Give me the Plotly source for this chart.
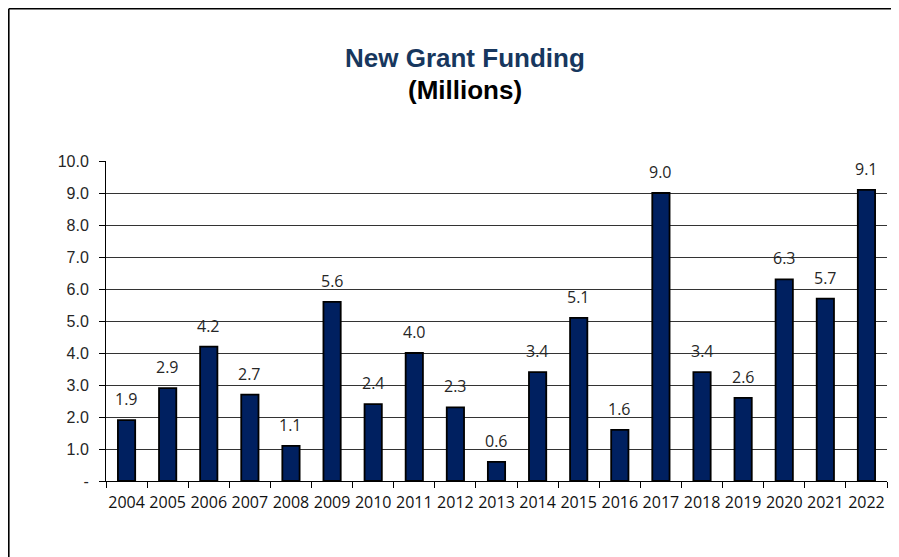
import plotly.graph_objects as go

years = ["2004", "2005", "2006", "2007", "2008", "2009", "2010", "2011", "2012", "2013",
         "2014", "2015", "2016", "2017", "2018", "2019", "2020", "2021", "2022"]
funding = [1.9, 2.9, 4.2, 2.7, 1.1, 5.6, 2.4, 4.0, 2.3, 0.6,
           3.4, 5.1, 1.6, 9.0, 3.4, 2.6, 6.3, 5.7, 9.1]
y_tickvals = [0, 1, 2, 3, 4, 5, 6, 7, 8, 9, 10]
y_ticktext = ["-", "1.0", "2.0", "3.0", "4.0", "5.0", "6.0", "7.0", "8.0", "9.0", "10.0"]

# page has an 8px body margin; figure occupies page x 8..899, y 8..557
W, H = 891, 549
ML, MR, MT, MB = 98, 12, 153, 76
PW, PH = W - ML - MR, H - MT - MB


def px_x(p):
    return (p - ML) / PW


def px_y(p):
    return (H - MB - p) / PH


fig = go.Figure()
fig.add_trace(go.Bar(
    x=years, y=funding,
    marker=dict(color="#002060", line=dict(color="#000000", width=1.8)),
    width=0.42,
    hoverinfo="x+y",
))

annotations = []
for i, v in enumerate(funding):
    annotations.append(dict(
        x=i, y=v, xref="x", yref="y", text=f"{v:.1f}", showarrow=False,
        yanchor="bottom", yshift=8,
        font=dict(family="Open Sans, sans-serif", size=16, color="#262626"),
    ))

annotations.append(dict(
    x=px_x(457), y=px_y(50), xref="paper", yref="paper", xanchor="center", yanchor="middle",
    text="<b>New Grant Funding</b>", showarrow=False,
    font=dict(family="Liberation Sans, Arial, sans-serif", size=26, color="#17375E"),
))
annotations.append(dict(
    x=px_x(457), y=px_y(82), xref="paper", yref="paper", xanchor="center", yanchor="middle",
    text="<b>(Millions)</b>", showarrow=False,
    font=dict(family="Liberation Sans, Arial, sans-serif", size=26, color="#000000"),
))

shapes = [
    dict(type="line", xref="paper", yref="paper", x0=px_x(0.8), x1=px_x(W + 5), y0=px_y(0.8), y1=px_y(0.8),
         line=dict(color="#000000", width=1.6)),
    dict(type="line", xref="paper", yref="paper", x0=px_x(0.8), x1=px_x(0.8), y0=px_y(0.8), y1=px_y(H + 5),
         line=dict(color="#000000", width=1.6)),
]

fig.update_layout(
    width=W, height=H,
    margin=dict(l=ML, r=MR, t=MT, b=MB),
    paper_bgcolor="white", plot_bgcolor="white",
    showlegend=False,
    annotations=annotations,
    shapes=shapes,
    xaxis=dict(
        type="category", range=[-0.5, len(years) - 0.5],
        tickson="boundaries", ticks="outside", ticklen=6, tickcolor="#000000",
        showline=True, linecolor="#000000", linewidth=1, showgrid=False,
        tickfont=dict(family="Open Sans, sans-serif", size=16, color="#111111"),
        ticklabelstandoff=7, tickangle=0,
    ),
    yaxis=dict(
        range=[0, 10], tickvals=y_tickvals, ticktext=y_ticktext,
        ticks="outside", ticklen=6, tickcolor="#000000",
        showline=True, linecolor="#000000", linewidth=1,
        showgrid=True, gridcolor="#333333", gridwidth=1, zeroline=False,
        tickfont=dict(family="Liberation Sans, Arial, sans-serif", size=16, color="#262626"),
        ticklabelstandoff=7,
    ),
)

fig.write_html("out.html")
